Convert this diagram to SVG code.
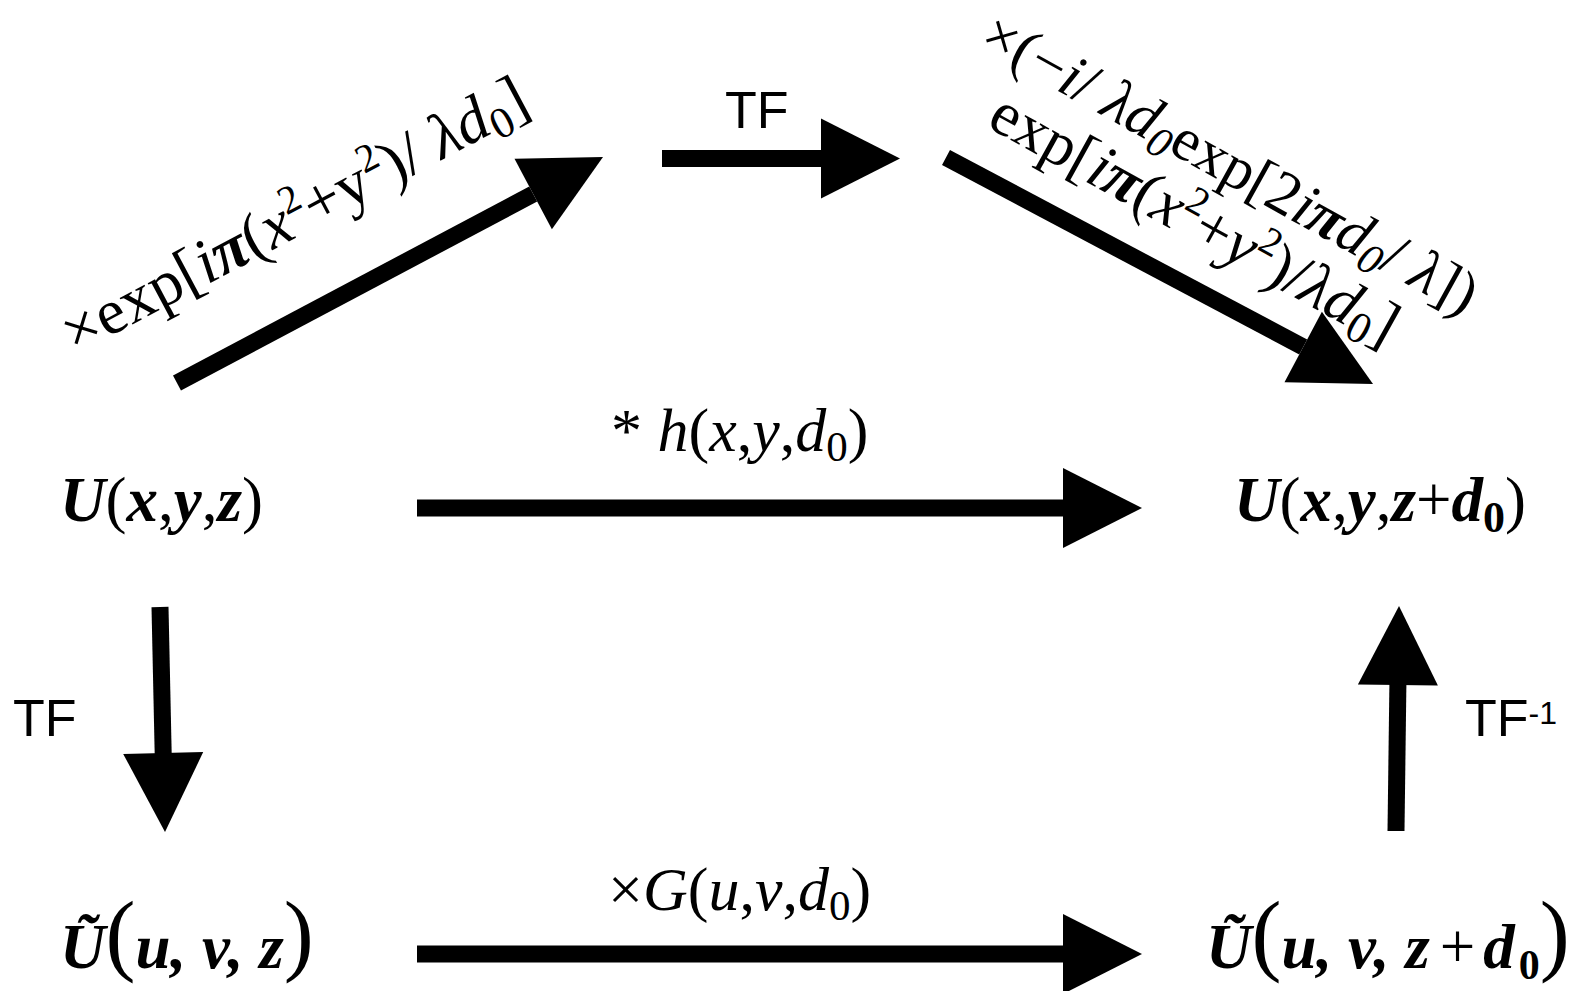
<svg xmlns="http://www.w3.org/2000/svg" width="1585" height="991" viewBox="0 0 1585 991">
<style>
.m{font-family:"Liberation Serif","Times New Roman",serif;fill:#000}
.tf{font-family:"Liberation Sans",Arial,sans-serif;font-size:52px;fill:#000}
.bi{font-weight:bold;font-style:italic}
.it{font-style:italic}
.shaft{stroke:#000;stroke-width:17;fill:none}
.head{fill:#000}
</style>
<rect width="1585" height="991" fill="#fff"/>
<g id="connectors">
  <g id="arrow-diag-up">
    <line class="shaft" x1="177" y1="383" x2="533.2" y2="194"/>
    <polygon class="head" points="514.5,158.7 603,157 551.9,229.3"/>
  </g>
  <g id="arrow-tf-top">
    <line class="shaft" x1="662" y1="158.5" x2="822" y2="158.5"/>
    <polygon class="head" points="821,118.5 900,158.5 821,198.5"/>
  </g>
  <g id="arrow-diag-down">
    <line class="shaft" x1="946" y1="157.5" x2="1303.2" y2="347"/>
    <polygon class="head" points="1321.9,311.7 1373,384 1284.5,382.3"/>
  </g>
  <g id="arrow-middle">
    <line class="shaft" x1="417" y1="508" x2="1064" y2="508"/>
    <polygon class="head" points="1063,468 1142,508 1063,548"/>
  </g>
  <g id="arrow-bottom">
    <line class="shaft" x1="417" y1="954" x2="1064" y2="954"/>
    <polygon class="head" points="1063,914 1142,954 1063,994"/>
  </g>
  <g id="arrow-left-down">
    <line class="shaft" x1="160" y1="607" x2="163.2" y2="754"/>
    <polygon class="head" points="123.2,753.9 165,832 203.2,752.1"/>
  </g>
  <g id="arrow-right-up">
    <line class="shaft" x1="1396" y1="831" x2="1397.9" y2="684"/>
    <polygon class="head" points="1357.9,684.5 1399,606 1437.9,685.5"/>
  </g>
</g>
<g id="label-diag-up">
  <text class="m" font-size="64" transform="translate(75,355) rotate(-28)">×exp[<tspan class="it">i</tspan><tspan class="bi">π</tspan>(<tspan class="it">x</tspan><tspan font-size="40" dy="-24">2</tspan><tspan dy="24">+y</tspan><tspan font-size="40" dy="-24">2</tspan><tspan dy="24">)/ </tspan><tspan class="it">λd</tspan><tspan font-size="44" dy="10">0</tspan><tspan dy="-10">]</tspan></text>
</g>
<g id="label-tf-top">
  <text class="tf" x="725" y="128">TF</text>
</g>
<g id="label-diag-down" transform="translate(977,46) rotate(29)">
  <text class="m" font-size="61" x="0" y="0">×(−<tspan class="it">i</tspan>/ <tspan class="it">λd</tspan><tspan class="it" font-size="43" dy="10">0</tspan><tspan dy="-10">exp[2</tspan><tspan class="it">i</tspan><tspan class="bi">π</tspan><tspan class="it">d</tspan><tspan class="it" font-size="43" dy="10">0</tspan><tspan dy="-10">/ </tspan><tspan class="it">λ</tspan>])</text>
  <text class="m" font-size="63" x="46" y="66">exp[<tspan class="it">i</tspan><tspan class="bi">π</tspan>(<tspan class="it">x</tspan><tspan font-size="40" dy="-24">2</tspan><tspan dy="24">+</tspan><tspan class="it">y</tspan><tspan font-size="40" dy="-24">2</tspan><tspan dy="24">)/</tspan><tspan class="it">λd</tspan><tspan font-size="44" dy="10">0</tspan><tspan dy="-10">]</tspan></text>
</g>
<g id="label-conv">
  <text class="m" font-size="62" x="611" y="451">* <tspan class="it">h</tspan>(<tspan class="it">x</tspan>,<tspan class="it">y</tspan>,<tspan class="it">d</tspan><tspan font-size="43" dy="10">0</tspan><tspan dy="-10">)</tspan></text>
</g>
<g id="label-mult">
  <text class="m" font-size="62" x="608" y="910">×<tspan class="it">G</tspan>(<tspan class="it">u</tspan>,<tspan class="it">v</tspan>,<tspan class="it">d</tspan><tspan font-size="43" dy="10">0</tspan><tspan dy="-10">)</tspan></text>
</g>
<g id="label-tf-left">
  <text class="tf" x="13" y="736">TF</text>
</g>
<g id="label-tf-inv">
  <text class="tf" x="1465" y="736">TF<tspan font-size="32" dy="-12">-1</tspan></text>
</g>
<g id="node-U-xyz">
  <text class="m" font-size="63" x="60" y="521"><tspan class="bi">U</tspan>(<tspan class="bi">x</tspan>,<tspan class="bi">y</tspan>,<tspan class="bi">z</tspan>)</text>
</g>
<g id="node-U-xyz-d0">
  <text class="m" font-size="63" x="1234" y="521"><tspan class="bi">U</tspan>(<tspan class="bi">x</tspan>,<tspan class="bi">y</tspan>,<tspan class="bi">z</tspan>+<tspan class="bi">d</tspan><tspan font-weight="bold" font-size="44" dy="11">0</tspan><tspan dy="-11">)</tspan></text>
</g>
<g id="node-Ut-uvz">
  <text class="m" font-size="63" x="60" y="968"><tspan class="bi">Ũ</tspan><tspan font-size="90" dy="-4">(</tspan><tspan class="bi" dy="4">u</tspan><tspan class="bi">, v, z</tspan><tspan font-size="90" dy="-4">)</tspan></text>
</g>
<g id="node-Ut-uvz-d0">
  <text class="m" font-size="63" x="1206" y="968"><tspan class="bi">Ũ</tspan><tspan font-size="90" dy="-4">(</tspan><tspan class="bi" dy="4">u</tspan><tspan class="bi">, v, z</tspan><tspan dx="10">+</tspan><tspan class="bi" dx="8">d</tspan><tspan font-weight="bold" font-size="42" dx="4" dy="11">0</tspan><tspan font-size="90" dy="-15">)</tspan></text>
</g>
</svg>
